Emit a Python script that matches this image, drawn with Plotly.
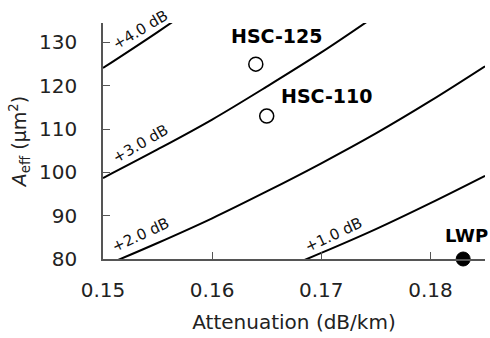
import plotly.graph_objects as go

# Constant-gain contour lines
curve_1db_x = [0.165, 0.170, 0.175, 0.180, 0.185]
curve_1db_y = [76.2, 81.4, 86.9, 92.9, 99.2]
curve_2db_x = [0.150, 0.155, 0.160, 0.165, 0.170, 0.175, 0.180, 0.185]
curve_2db_y = [78.3, 83.7, 89.4, 95.6, 102.1, 109.0, 116.5, 124.5]
curve_3db_x = [0.150, 0.155, 0.160, 0.165, 0.170, 0.175]
curve_3db_y = [98.7, 105.3, 112.2, 119.8, 127.7, 136.2]
curve_4db_x = [0.150, 0.155, 0.160]
curve_4db_y = [124.1, 132.4, 141.1]
curve_labels = ["+1.0 dB", "+2.0 dB", "+3.0 dB", "+4.0 dB"]

# Fibres
fiber_names = ["HSC-125", "HSC-110", "LWP"]
fiber_atten = [0.164, 0.165, 0.183]
fiber_aeff = [125, 113, 80]

x_ticks = [0.15, 0.16, 0.17, 0.18]
y_ticks = [80, 90, 100, 110, 120, 130]

fig = go.Figure()
for cx, cy in [(curve_1db_x, curve_1db_y), (curve_2db_x, curve_2db_y),
               (curve_3db_x, curve_3db_y), (curve_4db_x, curve_4db_y)]:
    fig.add_trace(go.Scatter(x=cx, y=cy, mode="lines",
                             line=dict(color="black", width=2, shape="spline"),
                             showlegend=False, hoverinfo="skip"))

fig.add_trace(go.Scatter(x=fiber_atten[:2], y=fiber_aeff[:2], mode="markers",
                         marker=dict(size=14, color="white", line=dict(color="black", width=1.5)),
                         showlegend=False, cliponaxis=False))
fig.add_trace(go.Scatter(x=fiber_atten[2:], y=fiber_aeff[2:], mode="markers",
                         marker=dict(size=14, color="black", line=dict(color="black", width=1)),
                         showlegend=False, cliponaxis=False))

font_main = "DejaVu Sans"
# curve labels
label_pos = [(0.17109, 85.6, -25), (0.15343, 85.6, -25), (0.15339, 106.6, -30), (0.15339, 132.8, -31)]
for txt, (lx, ly, ang) in zip(curve_labels, label_pos):
    fig.add_annotation(x=lx, y=ly, text=txt, showarrow=False, textangle=ang,
                       font=dict(family=font_main, size=15, color="#111"),
                       xanchor="center", yanchor="middle")

name_pos = [(0.1659, 131.4, 19), (0.1705, 117.6, 19), (0.1833, 85.4, 18)]
for nm, (nx, ny, fs) in zip(fiber_names, name_pos):
    fig.add_annotation(x=nx, y=ny, text="<b>%s</b>" % nm, showarrow=False,
                       font=dict(family=font_main, size=fs, color="black"),
                       xanchor="center", yanchor="middle")

axis_common = dict(showgrid=False, zeroline=False, showline=True, automargin=False,
                   linecolor="#555", linewidth=1.5,
                   ticks="inside", ticklen=7, tickwidth=1.2, tickcolor="#555",
                   tickfont=dict(family=font_main, size=20, color="#222"))

fig.update_layout(
    width=490, height=338,
    margin=dict(l=103, r=5, t=23, b=79),
    paper_bgcolor="white", plot_bgcolor="white",
    xaxis=dict(range=[0.15, 0.185], tickvals=x_ticks, ticktext=["%.2f" % v for v in x_ticks],
               title=dict(text="Attenuation (dB/km)", font=dict(family=font_main, size=20, color="#222"),
                          standoff=14),
               ticklabelstandoff=12, **axis_common),
    yaxis=dict(range=[80, 134.5], tickvals=y_ticks,
               title=dict(text="<i>A</i><sub>eff</sub> (μm<sup>2</sup>)",
                          font=dict(family=font_main, size=19, color="#222"), standoff=7),
               ticklabelstandoff=20, **axis_common),
)

fig.write_html("out.html", config={"displayModeBar": False},
               post_script="document.body.style.margin='0';")
